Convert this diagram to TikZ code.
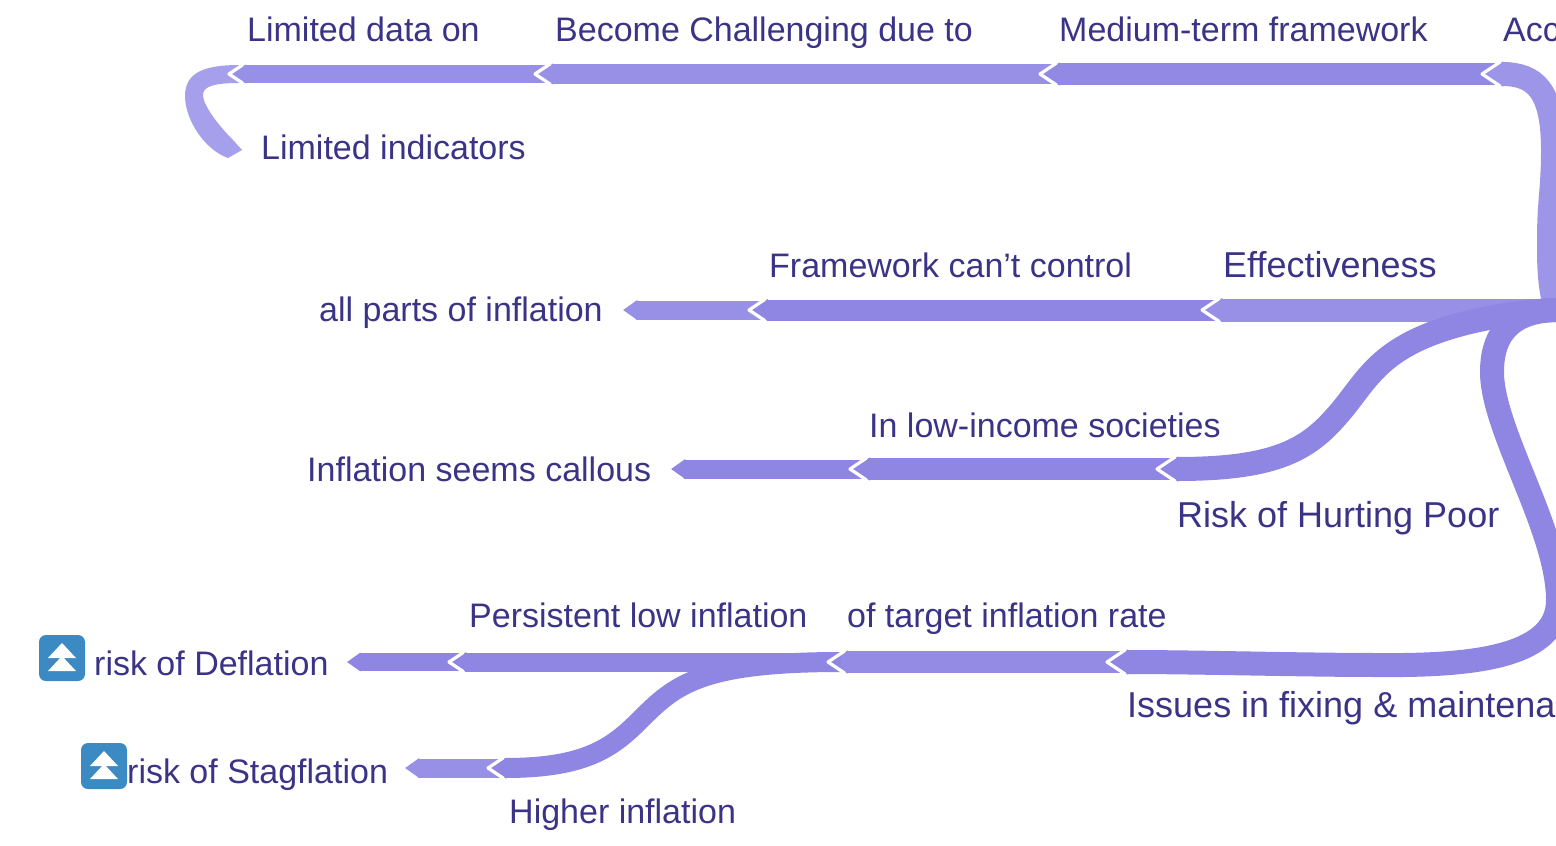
\documentclass[tikz,border=0pt]{standalone}
\usepackage{fontspec}
\setmainfont{Liberation Sans}
\usetikzlibrary{arrows.meta}
\definecolor{lblcol}{HTML}{3B3486}
\definecolor{iconcol}{HTML}{3C8AC4}
\definecolor{lkpale}{HTML}{A69FEC}
\definecolor{lklight}{HTML}{9D95E8}
\definecolor{lkmid}{HTML}{9890E6}
\definecolor{lkdark}{HTML}{8E86E2}

\begin{document}
\begin{tikzpicture}[x=1pt,y=-1pt,
    lbl/.style = {anchor=base west,inner sep=0pt,text=lblcol,font=\fontsize{34}{40}\selectfont},
    biglbl/.style = {lbl,font=\fontsize{36}{42}\selectfont},
    link/.style = {line width=#1pt,-{Triangle[length=0pt .75,width=0pt 1]}},
    notch/.pic = {\draw[white,line width=3.2pt,line join=round] (.75*#1-3,-#1/2) -- (-3,0) -- (.75*#1-3,#1/2);},
    iconbox/.style = {fill=iconcol,rounded corners=7pt,minimum size=46pt,inner sep=0pt},
    uparrows/.pic = {
        \node[iconbox] (-box) {};
        \fill[white] (0,-15) -- (14,0) -- (-14,0) -- cycle;
        \fill[white] (0,-2) -- (14,13) -- (-14,13) -- cycle;
    }]
    \useasboundingbox (0,0) rectangle (1556,846);
    \clip (0,0) rectangle (1556,846);

    \coordinate (t1) at (232,74);
    \coordinate (t2) at (538,74);
    \coordinate (t3) at (1043,74);
    \coordinate (t4) at (1485,74);
    \coordinate (e1) at (242,150);
    \coordinate (m1) at (623,310);
    \coordinate (m2) at (752,310);
    \coordinate (m3) at (1205,310);
    \coordinate (root) at (1556,310);
    \coordinate (p1) at (671,469);
    \coordinate (p2) at (853,469);
    \coordinate (p3) at (1160,469);
    \coordinate (d1) at (347,662);
    \coordinate (d2) at (452,662);
    \coordinate (d3) at (831,662);
    \coordinate (d4) at (1110,662);
    \coordinate (s1) at (405,768);
    \coordinate (s2) at (491,768);

    \fill[lkpale] (t1) ++(8,-9) .. controls (205,65) and (185,72) .. (185,96) .. controls (185,120) and (205,150) .. (228,158) -- (e1) -- (233,140) .. controls (218,125) and (203,105) .. (203,95) .. controls (203,86) and (215,83) .. (240,83) -- cycle;
    \draw[link=18,draw=lkmid] (t2) ++(10,0) -- (t1);
    \draw[link=20,draw=lkmid] (t3) ++(10,0) -- (t2);
    \draw[link=22,draw=lkdark!70!lkmid] (t4) ++(10,0) -- (t3);
    \draw[link=24,draw=lklight] (root) .. controls (1549,285) and (1549,265) .. (1549,240) .. controls (1549,200) and (1553,190) .. (1553,150) .. controls (1553,90) and (1535,74) .. (t4);

    \draw[link=19,draw=lkmid] (m2) ++(10,0) -- (m1);
    \draw[link=21,draw=lkdark] (m3) ++(10,0) -- (m2);
    \draw[link=23,draw=lkmid] (root) -- (m3);

    \draw[link=19,draw=lkdark] (p2) ++(10,0) -- (p1);
    \draw[link=22,draw=lkdark] (p3) ++(10,0) -- (p2);
    \draw[link=24,draw=lkdark] (root) .. controls (1530,311) and (1500,315) .. (1470,322) .. controls (1375,345) and (1368,382) .. (1335,418) .. controls (1305,452) and (1270,469) .. (p3);

    \draw[link=18,draw=lkdark] (d2) ++(10,0) -- (d1);
    \draw[link=19,draw=lkdark] (d3) ++(10,0) -- (d2);
    \draw[link=22,draw=lkdark!40!lkmid] (d4) ++(10,0) -- (d3);
    \draw[link=24,draw=lkdark] (root) .. controls (1515,311) and (1492,330) .. (1492,372) .. controls (1492,430) and (1558,530) .. (1558,600) .. controls (1558,655) and (1480,666) .. (1380,665) .. controls (1300,665) and (1200,662) .. (d4);

    \draw[link=19,draw=lkmid] (s2) ++(10,0) -- (s1);
    \draw[link=20,draw=lkdark] (d3) ++(10,0) .. controls (700,662) and (675,685) .. (640,720) .. controls (612,748) and (585,768) .. (s2);

    \pic at (t2) {notch=20};
    \pic at (t3) {notch=22};
    \pic at (t4) {notch=24};
    \pic at (t1) {notch=18};
    \pic at (m2) {notch=21};
    \pic at (m3) {notch=23};
    \pic at (p2) {notch=22};
    \pic at (p3) {notch=24};
    \pic at (d2) {notch=19};
    \pic at (d3) {notch=22};
    \pic at (d4) {notch=24};
    \pic at (s2) {notch=20};

    \node[lbl] (limdata) at (247,41) {Limited data on};
    \node[lbl] (become) at (555,41) {Become Challenging due to};
    \node[lbl] (medium) at (1059,41) {Medium-term framework};
    \node[lbl] (acc) at (1503,41) {Acc};
    \node[lbl] (limind) at (261,159) {Limited indicators};
    \node[lbl] (frame) at (769,277) {Framework can’t control};
    \node[biglbl] (effect) at (1223,277) {Effectiveness};
    \node[lbl] (parts) at (319,321) {all parts of inflation};
    \node[lbl] (lowinc) at (869,437) {In low-income societies};
    \node[lbl] (callous) at (307,481) {Inflation seems callous};
    \node[biglbl] (hurting) at (1177,527) {Risk of Hurting Poor};
    \node[lbl] (persist) at (469,627) {Persistent low inflation};
    \node[lbl] (target) at (847,627) {of target inflation rate};
    \node[lbl] (deflat) at (94,675) {risk of Deflation};
    \node[biglbl] (issues) at (1127,717) {Issues in fixing \& maintena};
    \node[lbl] (stagfl) at (127,783) {risk of Stagflation};
    \node[lbl] (higher) at (509,823) {Higher inflation};

    \pic (icona) at (62,658) {uparrows};
    \pic (iconb) at (104,766) {uparrows};
\end{tikzpicture}
\end{document}
